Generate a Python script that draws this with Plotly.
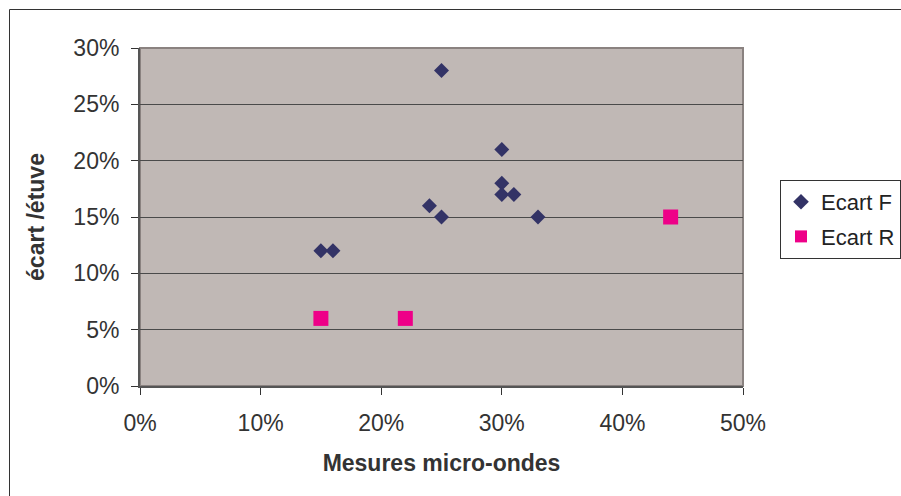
import plotly.graph_objects as go

# Ecart F series (micro-ondes vs étuve)
f_x = [0.25, 0.30, 0.30, 0.30, 0.31, 0.24, 0.25, 0.33, 0.15, 0.16]
f_y = [0.28, 0.21, 0.18, 0.17, 0.17, 0.16, 0.15, 0.15, 0.12, 0.12]

# Ecart R series
r_x = [0.15, 0.22, 0.44]
r_y = [0.06, 0.06, 0.15]

W, H = 901, 496
L, R, T, B = 140, 158, 48, 110
pw, ph = W - L - R, H - T - B

def px_x(p):
    return (p - L) / pw

def px_y(p):
    return (H - B - p) / ph

FAM = "Liberation Sans, Arial, sans-serif"
SIZE = 23
font = dict(family=FAM, size=SIZE, color="#333333")

fig = go.Figure()
fig.add_trace(go.Scatter(
    x=f_x, y=f_y, mode="markers", name="Ecart F", legendgroup="F",
    marker=dict(symbol="diamond", size=11.5, color="#333366"),
))
fig.add_trace(go.Scatter(
    x=r_x, y=r_y, mode="markers", name="Ecart R", legendgroup="R",
    marker=dict(symbol="square", size=15, color="#EE0088"),
))

fig.update_layout(
    width=W, height=H,
    margin=dict(l=L, r=R, t=T, b=B, autoexpand=False),
    paper_bgcolor="white",
    plot_bgcolor="#C0B8B5",
    font=font,
    showlegend=True,
    legend=dict(
        x=px_x(780), y=px_y(180), xanchor="left", yanchor="top",
        bordercolor="#333333", borderwidth=1, bgcolor="white",
        font=dict(family=FAM, size=22, color="#222222"),
        itemsizing="constant", itemwidth=30, tracegroupgap=3,
    ),
    xaxis=dict(
        range=[0, 0.5], tickvals=[0, 0.1, 0.2, 0.3, 0.4, 0.5],
        tickformat=".0%", showgrid=False, zeroline=False,
        showline=True, linecolor="#555555", linewidth=2,
        ticks="outside", ticklen=7, tickcolor="#333333",
        ticklabelstandoff=8,
        mirror=False, fixedrange=True,
        title=dict(text="<b>Mesures micro-ondes</b>", standoff=20,
                   font=dict(family=FAM, size=SIZE, color="#333333")),
    ),
    yaxis=dict(
        range=[0, 0.30], tickvals=[0, 0.05, 0.10, 0.15, 0.20, 0.25, 0.30],
        tickformat=".0%", showgrid=True, gridcolor="#4a4a4a", gridwidth=1,
        zeroline=False, showline=True, linecolor="#555555", linewidth=2,
        ticks="outside", ticklen=7, tickcolor="#333333", fixedrange=True,
        ticklabelstandoff=7,
        title=dict(text="<b>écart /étuve</b>", standoff=22,
                   font=dict(family=FAM, size=SIZE, color="#333333")),
    ),
)

# plot-area frame (top and right edges)
fig.add_shape(type="rect", xref="paper", yref="paper", x0=0, y0=0, x1=1, y1=1,
              line=dict(color="#8a8280", width=2), layer="below")
# outer chart border
fig.add_shape(type="rect", xref="paper", yref="paper",
              x0=px_x(9.5), y0=px_y(505), x1=px_x(910), y1=px_y(9.5),
              line=dict(color="#333333", width=1))

fig.write_html("out.html")
